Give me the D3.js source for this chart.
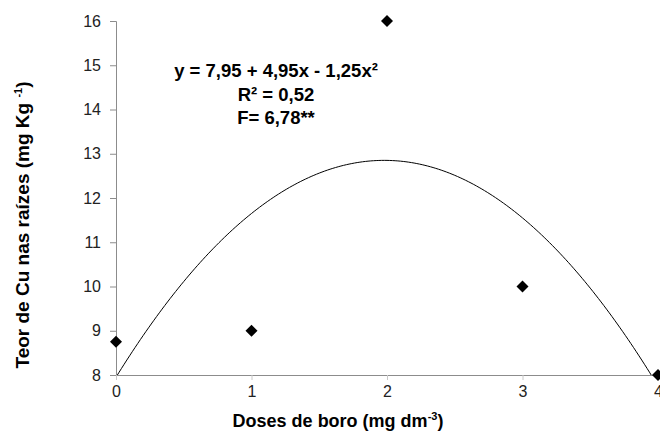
<!DOCTYPE html>
<html>
<head>
<meta charset="UTF-8">
<title>Teor de Cu nas raízes</title>
<script src="https://cdn.jsdelivr.net/npm/d3@7/dist/d3.min.js"></script>
<style>
  body { margin: 0; background: #fff; }
  text { font-family: Arial, "Liberation Sans", sans-serif; }
</style>
</head>
<body>
<svg id="chart" width="660" height="436"></svg>
<script>
// dados
var doses = [0, 1, 2, 3, 4];
var teorCu = [8.75, 9, 16, 10, 8];
var xTicks = [0, 1, 2, 3, 4];
var yTicks = [8, 9, 10, 11, 12, 13, 14, 15, 16];
var coef = [7.95, 4.95, -1.25];   // y = a + bx + cx²
var eqLines = ["y = 7,95 + 4,95x - 1,25x²", "R² = 0,52", "F= 6,78**"];

var svg = d3.select("#chart");
var margin = { top: 21, right: 2, bottom: 61, left: 116 };
var width = 660 - margin.left - margin.right;
var height = 436 - margin.top - margin.bottom;

var x = d3.scaleLinear().domain([0, 4]).range([0, width]);
var y = d3.scaleLinear().domain([8, 16]).range([height, 0]);

var g = svg.append("g")
    .attr("transform", `translate(${margin.left}, ${margin.top})`);

// eixo y
var yAxis = g.append("g")
    .call(d3.axisLeft(y).tickValues(yTicks).tickSize(6).tickPadding(9));
yAxis.select(".domain").attr("stroke", "#8c8c8c");
yAxis.selectAll(".tick line").attr("stroke", "#8c8c8c");
yAxis.selectAll("text").attr("font-size", 16).attr("fill", "#222");

// eixo x
var xAxis = g.append("g")
    .attr("transform", `translate(0, ${height})`)
    .call(d3.axisBottom(x).tickValues(xTicks).tickFormat(d3.format("d")).tickSize(5).tickPadding(6));
xAxis.select(".domain").attr("stroke", "#8c8c8c");
xAxis.selectAll(".tick line").attr("stroke", "#c8c8c8");
xAxis.selectAll("text").attr("font-size", 16).attr("fill", "#222");

// curva ajustada
g.append("clipPath").attr("id", "clip")
  .append("rect").attr("x", 0).attr("y", 0).attr("width", width + 2).attr("height", height);

var curve = d3.range(0, 4.0001, 0.02).map(function (d) {
    return [d, coef[0] + coef[1] * d + coef[2] * d * d];
});
g.append("path")
    .datum(curve)
    .attr("clip-path", "url(#clip)")
    .attr("fill", "none")
    .attr("stroke", "#000")
    .attr("stroke-width", 1)
    .attr("d", d3.line().x(function (d) { return x(d[0]); }).y(function (d) { return y(d[1]); }));

// pontos
g.selectAll(".pt")
    .data(doses)
    .enter().append("path")
    .attr("class", "pt")
    .attr("transform", function (d, i) { return `translate(${x(d)}, ${y(teorCu[i])})`; })
    .attr("d", "M0,-6L6,0L0,6L-6,0Z")
    .attr("fill", "#000");

// equação
g.selectAll(".eq")
    .data(eqLines)
    .enter().append("text")
    .attr("class", "eq")
    .attr("x", 160)
    .attr("y", function (d, i) { return 56 + i * 23.5; })
    .attr("text-anchor", "middle")
    .attr("font-size", 18.5)
    .attr("font-weight", "bold")
    .text(function (d) { return d; });

// títulos dos eixos
var xt = svg.append("text")
    .attr("x", 338)
    .attr("y", 427)
    .attr("text-anchor", "middle")
    .attr("font-size", 18)
    .attr("font-weight", "bold");
xt.append("tspan").text("Doses de boro (mg dm");
xt.append("tspan").attr("font-size", 11).attr("dy", -7).text("-3");
xt.append("tspan").attr("dy", 7).text(")");

var yt = svg.append("text")
    .attr("transform", "translate(29, 225) rotate(-90)")
    .attr("text-anchor", "middle")
    .attr("font-size", 19)
    .attr("font-weight", "bold");
yt.append("tspan").text("Teor de Cu nas raízes (mg Kg ");
yt.append("tspan").attr("font-size", 11).attr("dy", -7).text("-1");
yt.append("tspan").attr("dy", 7).text(")");
</script>
</body>
</html>
